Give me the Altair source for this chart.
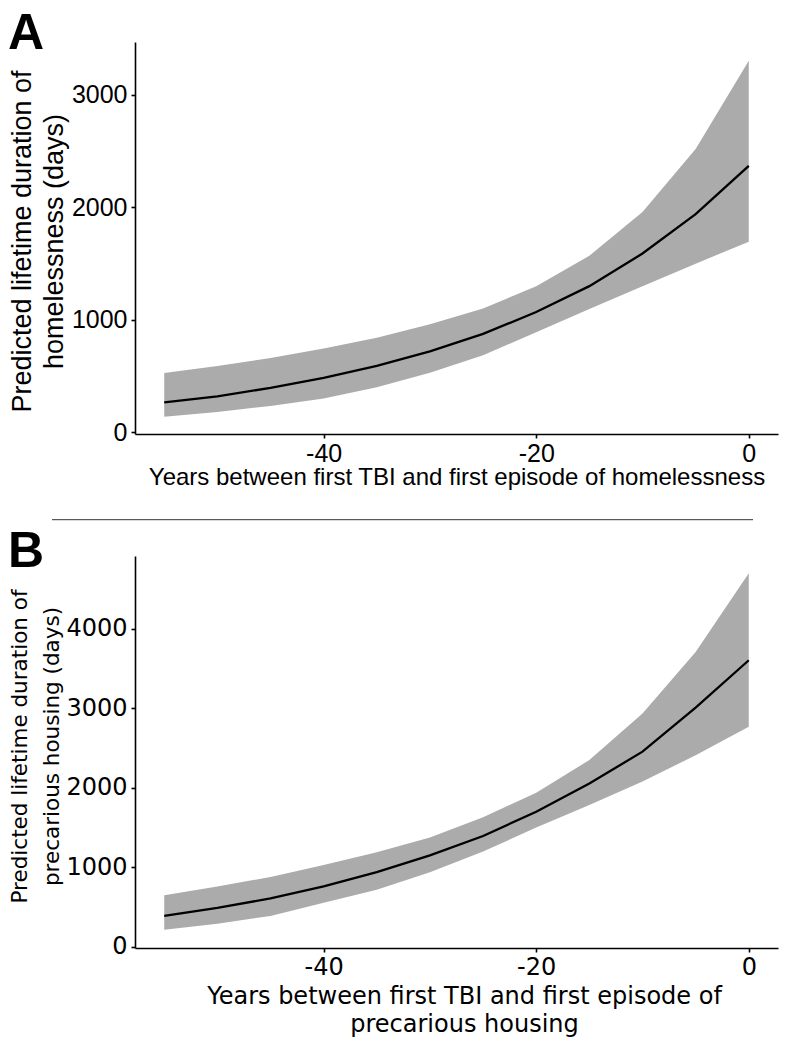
import altair as alt
import pandas as pd

years = [-55, -50, -45, -40, -35, -30, -25, -20, -15, -10, -5, 0]

home_fit = [267, 320, 395, 485, 590, 720, 875, 1070, 1300, 1590, 1940, 2370]
home_upper = [527, 590, 660, 745, 840, 960, 1100, 1300, 1570, 1960, 2520, 3305]
home_lower = [139, 180, 235, 300, 400, 530, 685, 890, 1096, 1300, 1500, 1695]

prec_fit = [390, 490, 610, 760, 940, 1150, 1395, 1700, 2055, 2455, 3010, 3605]
prec_upper = [650, 760, 880, 1030, 1190, 1375, 1630, 1940, 2350, 2935, 3710, 4700]
prec_lower = [215, 290, 390, 555, 720, 940, 1200, 1500, 1785, 2080, 2410, 2770]

x_ticks = [-40, -20, 0]
home_y_ticks = [0, 1000, 2000, 3000]
prec_y_ticks = [0, 1000, 2000, 3000, 4000]

home_ytitle = ["Predicted lifetime duration of", "homelessness (days)"]
home_xtitle = "Years between first TBI and first episode of homelessness"
prec_ytitle = ["Predicted lifetime duration of", "precarious housing (days)"]
prec_xtitle = ["Years between first TBI and first episode of", "precarious housing"]

df_home = pd.DataFrame({"year": years, "fit": home_fit, "lower": home_lower, "upper": home_upper})
df_prec = pd.DataFrame({"year": years, "fit": prec_fit, "lower": prec_lower, "upper": prec_upper})

W, H = 643, 392
XDOM = [-57.75, 2.75]


def axis_common(font, label_size, label_pad):
    return dict(
        labelFont=font, labelFontSize=label_size, labelColor="black",
        tickSize=4, labelPadding=label_pad, tickColor="black", tickWidth=1.6,
        domainColor="black", domainWidth=1.6, grid=False,
        titleFont=font, titleColor="black", titleFontWeight="normal",
        labelExpr="'' + datum.value",
    )


def panel(df, ydom, yticks, ytitle, xtitle, font, label_size, ytitle_size, ytitle_x, ytitle_y,
          xtitle_y, xtitle_x, xtitle_lh, letter, letter_y, rule=False):
    xaxis = alt.Axis(values=x_ticks, title=xtitle, titleFontSize=24,
                     titleBaseline="alphabetic", titleY=xtitle_y, titleX=xtitle_x,
                     titleAlign="center", titleLineHeight=xtitle_lh,
                     **axis_common(font, label_size, 3))
    yaxis = alt.Axis(values=yticks, title=ytitle, titleFontSize=ytitle_size,
                     titleAngle=270, titleX=ytitle_x, titleY=ytitle_y,
                     titleAlign="center", titleBaseline="middle", titleLineHeight=32,
                     **axis_common(font, label_size, 4))
    xs = alt.Scale(domain=XDOM, nice=False, zero=False)
    ys = alt.Scale(domain=ydom, nice=False, zero=False)
    base = alt.Chart(df)
    band = base.mark_area(color="#ABABAB", opacity=1).encode(
        x=alt.X("year:Q", scale=xs, axis=xaxis),
        y=alt.Y("lower:Q", scale=ys, axis=yaxis),
        y2="upper:Q",
    )
    line = base.mark_line(color="black", strokeWidth=2.3).encode(
        x=alt.X("year:Q", scale=xs, axis=xaxis),
        y=alt.Y("fit:Q", scale=ys, axis=yaxis),
    )
    lab = alt.Chart(pd.DataFrame({"label": [letter]})).mark_text(
        font="Liberation Sans", fontSize=50, fontWeight="bold", color="black",
        align="left", baseline="alphabetic",
    ).encode(x=alt.value(-127), y=alt.value(letter_y), text="label:N")
    layers = [band, line, lab]
    if rule:
        r = alt.Chart(pd.DataFrame({"d": [0]})).mark_rule(color="#333333", strokeWidth=1).encode(
            x=alt.value(-83), x2=alt.value(618), y=alt.value(477.7))
        layers.append(r)
    return alt.layer(*layers).properties(width=W, height=H)


pA = panel(df_home, [-15, 3471], home_y_ticks, home_ytitle, home_xtitle, "Liberation Sans", 25,
           27, -113, 199, 50, 321.5, 28, "A", 6.5, rule=True)
pB = panel(df_prec, [-14, 4916], prec_y_ticks, prec_ytitle, prec_xtitle, "DejaVu Sans", 24,
           21.5, -115, 190, 55.5, 329, 28, "B", 11.3)

chart = alt.vconcat(pA, pB, spacing=122, bounds="flush").properties(
    padding={"left": 0, "top": 0, "right": 5, "bottom": 5},
    background="white",
).configure_view(stroke=None)

chart.save("out.html", embed_options={"renderer": "svg", "actions": False})
